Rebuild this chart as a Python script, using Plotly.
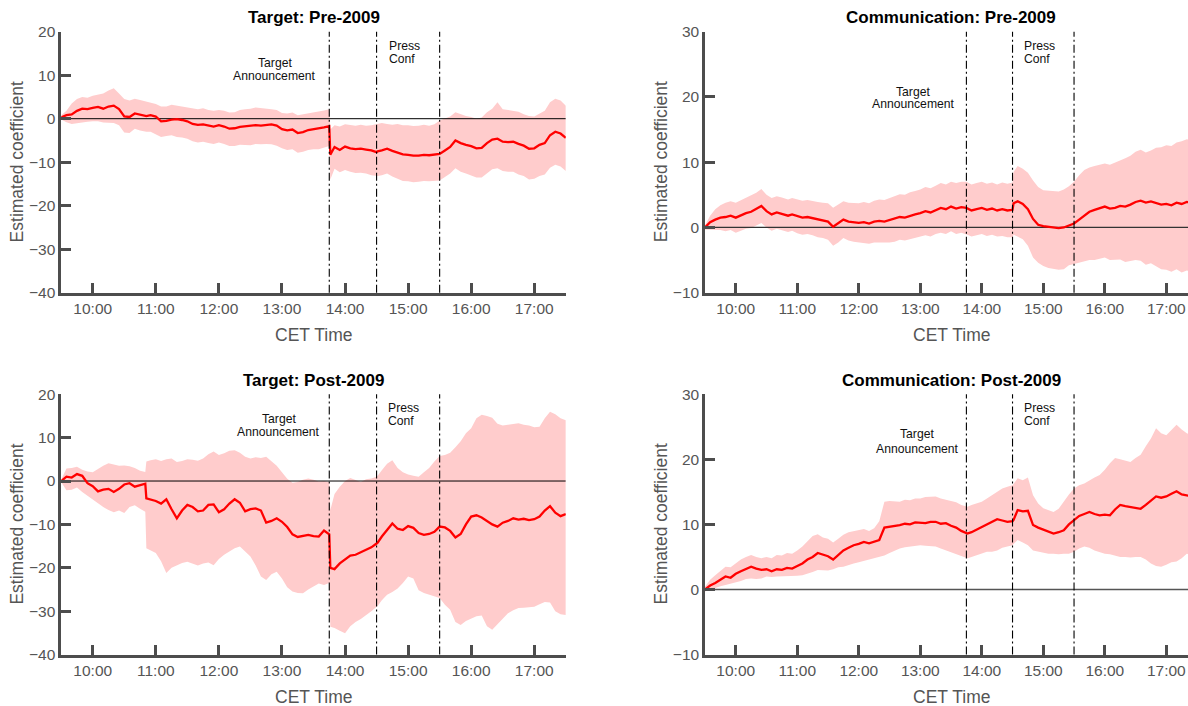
import plotly.graph_objects as go

W, H = 1188, 706
DAY = "2020-01-01 "

# Sample times: 5-minute grid plus the minute right after each jump
EXTRA_MINUTES = ["10:51", "13:46", "14:31"]
grid = []
for m in range(9 * 60 + 30, 17 * 60 + 31, 5):
    grid.append(f"{m // 60:02d}:{m % 60:02d}")
TIMES = sorted(grid + EXTRA_MINUTES)

EVENTS = ["13:45", "14:30", "15:30"]
HOUR_TICKS = ["10:00", "11:00", "12:00", "13:00", "14:00", "15:00", "16:00", "17:00"]

# ---- Target: Pre-2009 ----
tp_mid = [0.3, 0.8, 1.0, 1.8, 2.3, 2.2,
          2.5, 2.7, 2.3, 2.8, 3.0, 2.2, 0.5, 0.4, 1.2, 0.9, 0.7, 0.6, 0.8,
          0.5, -0.6, -0.5, -0.2, -0.1, -0.3, -0.6, -1.2, -1.4, -1.3, -1.6, -1.8,
          -1.5, -1.8, -2.3, -2.2, -1.9, -1.8, -1.7, -1.5, -1.6, -1.4, -1.3, -1.6,
          -2.4, -2.7, -2.5, -3.3, -3.1, -2.6, -2.4, -2.3, -2.0, -1.7, -8.3, -6.5, -7.2,
          -6.4, -6.8, -7.0, -6.9, -7.1, -7.3, -7.7, -7.5, -7.3, -6.9, -7.4, -7.8, -8.2,
          -8.3, -8.5, -8.5, -8.3, -8.4, -8.3, -8.1, -7.3, -6.5, -5.0, -5.6, -6.0,
          -6.3, -6.8, -6.7, -5.6, -4.8, -4.6, -5.3, -5.4, -5.3, -5.8, -6.2, -6.9,
          -6.8, -6.0, -5.6, -3.8, -3.0, -3.4, -4.4]
tp_hi = [0.8, 1.8, 3.5, 4.5, 5.0, 4.8,
         5.3, 5.6, 5.8, 6.5, 7.0, 5.8, 4.5, 4.2, 4.6, 4.3, 4.0, 4.0, 3.8,
         3.4, 2.8, 2.8, 3.2, 3.0, 2.8, 2.6, 2.3, 2.2, 2.4, 2.0, 1.8,
         2.0, 1.8, 1.4, 1.5, 2.0, 2.2, 2.3, 2.6, 2.5, 2.4, 2.2, 2.0,
         1.3, 1.2, 1.4, 0.8, 1.0, 1.3, 1.5, 1.7, 1.9, 2.2, -2.5, -1.5, -1.8,
         -1.3, -1.5, -1.6, -1.4, -1.6, -1.5, -1.3, -1.2, -1.0, -1.2, -1.4, -1.2, -1.5,
         -1.5, -1.7, -1.6, -1.4, -1.6, -1.3, -0.4, 0.0, 0.5, 1.5, 1.0, 0.6,
         0.4, 0.0, 0.3, 1.5, 2.3, 3.8, 2.2, 2.0, 1.8, 1.6, 1.0, 0.6,
         0.5, 1.2, 1.8, 3.8, 4.6, 4.2, 3.0]
tp_lo = [-0.2, -0.8, -1.2, -1.0, -0.8, -0.7,
         -0.6, -0.6, -0.9, -1.0, -1.0, -1.5, -3.2, -3.3, -2.3, -2.7, -3.0, -3.0, -3.0,
         -3.6, -4.2, -4.0, -3.8, -4.2, -4.3, -4.6, -5.2, -5.5, -5.3, -5.6, -5.8,
         -5.5, -5.8, -6.3, -6.3, -6.0, -6.0, -6.1, -5.8, -5.9, -5.8, -5.9, -6.2,
         -6.8, -7.2, -7.0, -7.8, -7.6, -7.2, -7.0, -7.0, -6.6, -6.3, -14.0, -11.5, -12.3,
         -11.8, -12.2, -12.5, -12.4, -12.6, -13.0, -13.3, -13.2, -13.0, -12.6, -13.3, -13.8, -14.3,
         -14.4, -14.6, -14.5, -14.3, -14.4, -14.3, -14.2, -13.4, -12.6, -11.4, -12.2, -12.6,
         -13.0, -13.5, -13.5, -12.5, -11.6, -11.4, -12.0, -12.2, -12.2, -12.8, -13.2, -14.0,
         -13.8, -13.2, -12.8, -11.3, -10.6, -11.0, -12.0]

# ---- Communication: Pre-2009 ----
cp_mid = [0.0, 0.8, 1.2, 1.5, 1.6, 1.8,
          1.5, 1.9, 2.2, 2.4, 2.8, 3.3, 2.5, 2.0, 2.3, 2.1, 1.8, 1.8, 2.0,
          1.7, 1.5, 1.6, 1.4, 1.2, 1.1, 0.9, 0.1, 0.6, 1.2, 0.9, 0.8,
          0.7, 0.8, 0.6, 0.9, 1.0, 0.9, 1.1, 1.3, 1.6, 1.5, 1.8, 2.0,
          2.2, 2.5, 2.3, 2.7, 3.0, 2.8, 3.2, 2.9, 3.1, 3.0, 2.9, 2.6, 2.8,
          3.0, 2.7, 2.9, 2.6, 2.8, 2.6, 2.7, 3.7, 4.0, 3.6, 2.8, 1.3, 0.4,
          0.2, 0.1, 0.0, -0.1, 0.0, 0.3, 0.6, 1.2, 1.8, 2.4, 2.7, 3.0,
          3.2, 2.9, 3.0, 3.3, 3.2, 3.5, 3.9, 4.1, 3.8, 4.0, 3.7, 3.5,
          3.6, 3.4, 3.8, 3.6, 3.9, 3.8, 3.7]
cp_hi = [0.3, 1.8, 2.8, 3.4, 3.8, 4.0,
         3.8, 4.2, 4.6, 4.9, 5.3, 5.9, 5.0, 4.5, 4.8, 4.6, 4.3, 4.3, 4.5,
         4.3, 4.1, 4.2, 4.0, 3.9, 3.8, 3.7, 3.0, 3.5, 4.0, 3.8, 3.8,
         3.7, 3.9, 3.7, 4.1, 4.3, 4.2, 4.5, 4.8, 5.1, 5.0, 5.4, 5.6,
         5.8, 6.2, 6.0, 6.4, 6.8, 6.6, 7.0, 6.8, 7.0, 7.0, 6.9, 6.6, 6.8,
         7.0, 6.7, 6.9, 6.6, 6.9, 6.7, 6.9, 8.5, 9.4, 9.0, 8.4, 7.2, 6.2,
         5.7, 5.6, 5.5, 5.5, 5.8, 6.3, 7.0, 8.0, 8.8, 9.2, 9.4, 9.6,
         9.8, 9.6, 9.9, 10.3, 10.6, 11.0, 11.6, 11.9, 11.5, 11.8, 12.2, 12.3,
         12.6, 12.5, 13.0, 13.2, 13.5, 13.4, 13.3]
cp_lo = [-0.3, -0.3, -0.4, -0.4, -0.6, -0.4,
         -0.8, -0.5, -0.2, -0.1, 0.3, 0.7, 0.0, -0.5, -0.2, -0.4, -0.7, -0.7, -0.5,
         -0.9, -1.1, -1.0, -1.2, -1.5, -1.6, -1.9, -2.8, -2.3, -1.6, -2.0, -2.2,
         -2.3, -2.3, -2.5, -2.3, -2.3, -2.4, -2.3, -2.2, -1.9, -2.0, -1.8, -1.6,
         -1.4, -1.2, -1.4, -1.0, -0.8, -1.0, -0.6, -1.0, -0.8, -1.0, -1.1, -1.4, -1.2,
         -1.0, -1.3, -1.1, -1.4, -1.3, -1.5, -1.5, -1.1, -1.4, -1.8, -2.8, -4.6, -5.4,
         -5.9, -6.2, -6.4, -6.5, -6.4, -5.8, -5.6, -5.4, -5.2, -5.0, -5.0, -4.8,
         -4.6, -5.0, -5.0, -4.9, -5.3, -5.2, -5.0, -5.1, -5.7, -5.5, -6.0, -6.4,
         -6.5, -6.8, -6.4, -6.9, -6.6, -6.8, -6.9]

# ---- Target: Post-2009 ----
tq_mid = [0.0, 1.0, 0.8, 1.6, 1.2, -0.5,
          -1.2, -2.4, -2.0, -1.8, -2.5, -1.8, -0.8, -0.5, -1.3, -0.9, -0.6, -4.0, -4.2,
          -4.6, -5.2, -4.2, -6.5, -8.6, -6.8, -5.5, -6.0, -7.0, -6.8, -5.5, -5.4,
          -7.2, -6.5, -5.2, -4.2, -5.0, -7.0, -6.5, -6.3, -6.8, -9.6, -9.2, -8.6,
          -9.4, -10.6, -12.3, -12.9, -12.6, -12.4, -12.7, -12.8, -11.4, -12.3, -20.0, -20.3, -19.0,
          -18.0, -17.2, -17.0, -16.4, -15.8, -15.3, -14.4, -14.2, -12.8, -11.3, -9.8, -11.0, -11.3,
          -10.4, -10.8, -12.0, -12.4, -12.2, -11.7, -10.5, -10.7, -11.5, -13.0, -12.2, -10.0,
          -8.2, -7.9, -8.4, -9.3, -10.0, -10.5, -9.6, -9.2, -8.6, -8.9, -8.7, -9.0,
          -8.8, -8.2, -6.8, -5.8, -7.3, -8.1, -7.6]
tq_hi = [0.3, 2.9, 3.0, 3.3, 2.6, 2.2,
         2.0, 2.8, 3.5, 4.1, 3.8, 3.5, 3.6, 3.4, 3.0, 2.4, 2.1, 4.5, 4.8,
         5.0, 4.6, 5.0, 5.2, 4.4, 4.6, 5.0, 4.9, 4.7, 5.2, 6.2, 6.8,
         6.0, 6.4, 7.0, 7.1, 6.5, 5.6, 5.2, 5.5, 5.3, 5.6, 4.6, 3.5,
         2.0, 0.5, -0.4, -0.2, 0.3, 0.6, 0.3, -0.1, 0.0, -0.3, -6.7, -3.0, -1.3,
         0.0, 0.7, 0.3, -0.2, 0.4, 0.6, 1.0, 1.2, 2.5, 4.0, 4.8, 3.0, 2.0,
         1.5, 1.2, 1.0, 2.0, 3.0, 4.5, 5.8, 6.0, 6.5, 7.8, 9.2, 11.0,
         12.2, 14.5, 15.3, 15.0, 14.6, 13.2, 12.8, 13.0, 13.2, 13.3, 13.0, 12.8,
         12.4, 12.5, 14.5, 16.0, 15.4, 14.5, 14.0]
tq_lo = [-0.3, -2.1, -2.0, -1.5, -2.5, -3.4,
         -4.2, -5.1, -6.0, -6.7, -7.2, -6.8, -7.4, -6.0, -5.6, -6.4, -7.1, -15.5, -16.0,
         -16.6, -18.5, -21.2, -20.0, -19.5, -18.9, -18.6, -19.0, -19.5, -19.0, -18.8, -19.4,
         -18.0, -17.0, -16.3, -15.5, -15.1, -16.2, -17.4, -19.5, -22.0, -22.8, -21.5, -20.9,
         -22.5, -24.5, -25.5, -25.8, -25.9, -25.0, -24.2, -23.6, -24.0, -23.5, -33.6, -33.9, -34.5,
         -35.1, -33.5, -32.5, -31.8, -31.0, -30.0, -29.0, -28.8, -27.5, -26.2, -25.6, -24.8, -23.5,
         -22.0, -22.5, -25.2, -25.8, -26.2, -26.7, -27.0, -28.5, -29.7, -32.5, -33.2, -32.3,
         -31.8, -31.2, -31.0, -33.5, -34.3, -33.0, -31.8, -30.5, -29.8, -29.3, -29.2, -29.1,
         -29.0, -28.4, -27.9, -28.0, -30.0, -30.7, -30.9]

# ---- Communication: Post-2009 ----
cq_mid = [0.0, 0.6, 1.0, 1.5, 2.0, 1.8,
          2.4, 2.8, 3.2, 3.5, 3.2, 3.0, 3.1, 2.8, 3.1, 3.0, 3.3, 3.3, 3.2,
          3.6, 4.0, 4.6, 5.0, 5.6, 5.3, 5.1, 4.6, 5.3, 6.0, 6.4, 6.8,
          7.0, 7.3, 7.1, 7.3, 7.6, 9.5, 9.6, 9.8, 9.9, 10.1, 10.0, 10.3,
          10.3, 10.2, 10.4, 10.4, 10.1, 10.2, 9.8, 9.5, 9.0, 8.6, 8.6, 8.8, 9.2,
          9.6, 10.0, 10.3, 10.8, 10.6, 10.4, 10.5, 10.7, 12.2, 12.0, 12.1, 9.9, 9.5,
          9.2, 8.8, 8.6, 8.8, 9.1, 10.0, 10.7, 11.3, 11.6, 11.9, 11.6, 11.4,
          11.5, 11.4, 12.3, 13.0, 12.8, 12.7, 12.6, 12.4, 13.0, 13.6, 14.3, 14.1,
          14.3, 14.7, 15.1, 14.6, 14.5, 14.3, 14.2]
cq_hi = [0.4, 1.5, 2.2, 2.8, 3.5, 3.4,
         4.0, 4.6, 5.0, 5.3, 5.0, 4.8, 5.0, 4.8, 5.3, 5.2, 5.6, 5.6, 5.5,
         6.0, 6.6, 7.4, 8.2, 8.5, 8.0, 7.8, 7.2, 7.8, 8.4, 8.8, 9.0,
         9.1, 9.3, 9.0, 9.4, 10.5, 13.5, 13.6, 13.5, 13.5, 13.8, 13.7, 14.0,
         14.0, 14.2, 14.3, 14.3, 14.0, 13.8, 13.7, 13.4, 13.0, 12.7, 12.7, 13.0, 13.2,
         13.5, 14.0, 14.5, 15.0, 15.5, 15.8, 16.0, 16.2, 17.1, 16.8, 17.2, 14.5, 13.2,
         12.5, 12.2, 11.9, 12.4, 13.5, 14.6, 15.5, 16.0, 16.3, 16.8, 17.2, 17.6,
         18.4, 19.4, 20.2, 20.0, 19.8, 19.6, 20.2, 20.7, 22.0, 23.2, 24.8, 24.0,
         23.7, 24.5, 25.3, 24.6, 24.0, 23.8, 23.5]
cq_lo = [-0.3, 0.0, 0.3, 0.5, 0.7, 0.9,
         1.0, 1.3, 1.6, 1.7, 1.6, 1.7, 2.0, 1.9, 2.0, 2.0, 2.0, 2.0, 2.1,
         2.1, 2.2, 2.4, 2.7, 3.0, 3.0, 2.9, 3.1, 3.4, 3.5, 3.8, 4.0,
         4.2, 4.4, 4.6, 4.8, 5.0, 5.2, 5.6, 6.0, 6.3, 6.5, 6.6, 6.8,
         6.8, 6.7, 6.6, 6.6, 6.3, 6.0, 5.7, 5.5, 5.1, 4.8, 4.8, 5.0, 5.3,
         5.6, 5.8, 5.8, 6.0, 6.4, 6.6, 6.8, 7.0, 7.6, 7.2, 6.8, 6.0, 5.8,
         5.6, 5.5, 5.5, 5.4, 5.5, 5.5, 5.8, 6.3, 6.6, 6.4, 6.0, 5.7,
         5.5, 5.4, 5.2, 5.0, 5.0, 4.9, 5.0, 5.0, 4.6, 4.0, 3.6, 3.5,
         3.8, 4.2, 4.3, 4.8, 5.5, 5.4, 5.2]

FONT = "Liberation Sans, Arial, Helvetica, sans-serif"
AXIS_COLOR = "#4d4d4d"
LABEL_COLOR = "#555555"
BAND = "#ffcccc"
LINE = "#ff0000"


def px_x(v):
    return v / W


def px_y(v):
    return 1 - v / H


# panel layout in pixels: left, right(visible), top, bottom
panels = [
    dict(title="Target: Pre-2009", mid=tp_mid, hi=tp_hi, lo=tp_lo, yr=[-40, 20],
         box=(61.2, 565.8, 31.7, 292.7), xend="17:30", full_right=565.8,
         zero="#000000", zw=1.0,
         tgt=(274.5, 63, 76), press=(386.7, 45.7, 59)),
    dict(title="Communication: Pre-2009", mid=cp_mid, hi=cp_hi, lo=cp_lo, yr=[-10, 30],
         box=(705.0, 1188.0, 31.7, 292.7), xend="17:21:10", full_right=1197.0,
         zero="#333333", zw=1.2,
         tgt=(913.0, 91.5, 104.5), press=(1021.7, 45.7, 59)),
    dict(title="Target: Post-2009", mid=tq_mid, hi=tq_hi, lo=tq_lo, yr=[-40, 20],
         box=(61.2, 565.8, 394.3, 654.5), xend="17:30", full_right=565.8,
         zero="#000000", zw=1.0,
         tgt=(278.5, 419, 432), press=(386.0, 407.7, 420.7)),
    dict(title="Communication: Post-2009", mid=cq_mid, hi=cq_hi, lo=cq_lo, yr=[-10, 30],
         box=(705.0, 1188.0, 394.3, 654.5), xend="17:21:10", full_right=1197.0,
         zero="#555555", zw=1.4,
         tgt=(917.0, 434, 449), press=(1021.7, 407.7, 420.7)),
]

x_times = [DAY + t for t in TIMES]
fig = go.Figure()
annotations = []
shapes = []

for i, p in enumerate(panels):
    assert len(p["mid"]) == len(TIMES) and len(p["hi"]) == len(TIMES) and len(p["lo"]) == len(TIMES)
    n = "" if i == 0 else str(i + 1)
    xa, ya = "x" + n, "y" + n
    left, right, top, bottom = p["box"]

    fig.add_trace(go.Scatter(x=x_times, y=p["lo"], mode="lines", line=dict(width=0),
                             hoverinfo="skip", showlegend=False, xaxis=xa, yaxis=ya))
    fig.add_trace(go.Scatter(x=x_times, y=p["hi"], mode="lines", line=dict(width=0),
                             fill="tonexty", fillcolor=BAND, hoverinfo="skip",
                             showlegend=False, xaxis=xa, yaxis=ya))
    fig.add_trace(go.Scatter(x=[x_times[0], x_times[-1]], y=[0, 0], mode="lines",
                             line=dict(color=p["zero"], width=p["zw"]),
                             hoverinfo="skip", showlegend=False, xaxis=xa, yaxis=ya))
    fig.add_trace(go.Scatter(x=x_times, y=p["mid"], mode="lines",
                             line=dict(color=LINE, width=2.3),
                             showlegend=False, xaxis=xa, yaxis=ya))

    common = dict(showline=True, linecolor=AXIS_COLOR, linewidth=2.5, ticks="inside",
                  ticklen=10, tickwidth=2.5, tickcolor=AXIS_COLOR, showgrid=False,
                  zeroline=False, automargin=False,
                  tickfont=dict(family=FONT, size=15.5, color=LABEL_COLOR))
    fig.update_layout(**{
        "xaxis" + n: dict(domain=[px_x(left), px_x(right)], anchor=ya, type="date",
                          range=[DAY + "09:30", DAY + p["xend"]],
                          tickvals=[DAY + t for t in HOUR_TICKS], ticktext=HOUR_TICKS,
                          **common),
        "yaxis" + n: dict(domain=[px_y(bottom), px_y(top)], anchor=xa, range=p["yr"],
                          tickvals=list(range(p["yr"][0], p["yr"][1] + 1, 10)),
                          **common),
    })

    for ev in EVENTS:
        shapes.append(dict(type="line", xref=xa, yref=ya + " domain", x0=DAY + ev, x1=DAY + ev,
                           y0=0, y1=1, line=dict(color="#000000", width=1.1,
                                                 dash="8px,3px,2px,3px")))

    cx = (left + p["full_right"]) / 2
    annotations.append(dict(text="<b>" + p["title"] + "</b>", x=px_x(cx), y=px_y(top - 14),
                            xref="paper", yref="paper", showarrow=False,
                            font=dict(family=FONT, size=17, color="#000000"),
                            xanchor="center", yanchor="middle"))
    annotations.append(dict(text="CET Time", x=px_x(cx), y=px_y(bottom + 42),
                            xref="paper", yref="paper", showarrow=False,
                            font=dict(family=FONT, size=17.5, color=LABEL_COLOR),
                            xanchor="center", yanchor="middle"))
    annotations.append(dict(text="Estimated coefficient", x=px_x(left - 44),
                            y=px_y((top + bottom) / 2), xref="paper", yref="paper",
                            showarrow=False, textangle=-90,
                            font=dict(family=FONT, size=17.5, color=LABEL_COLOR),
                            xanchor="center", yanchor="middle"))
    tx, ty1, ty2 = p["tgt"]
    for word, yy in (("Target", ty1), ("Announcement", ty2)):
        annotations.append(dict(text=word, x=px_x(tx), y=px_y(yy), xref="paper", yref="paper",
                                showarrow=False, font=dict(family=FONT, size=12.2, color="#111111"),
                                xanchor="center", yanchor="middle"))
    qx, qy1, qy2 = p["press"]
    for word, yy in (("Press", qy1), ("Conf", qy2)):
        annotations.append(dict(text=word, x=px_x(qx), y=px_y(yy), xref="paper", yref="paper",
                                showarrow=False, font=dict(family=FONT, size=12.2, color="#111111"),
                                xanchor="left", yanchor="middle"))

fig.update_layout(template="none", width=W, height=H, margin=dict(l=0, r=0, t=0, b=0, pad=0),
                  paper_bgcolor="white", plot_bgcolor="white",
                  font=dict(family=FONT), annotations=annotations, shapes=shapes)

fig.write_html("out.html", include_plotlyjs=True, full_html=True,
               config={"displayModeBar": False})
